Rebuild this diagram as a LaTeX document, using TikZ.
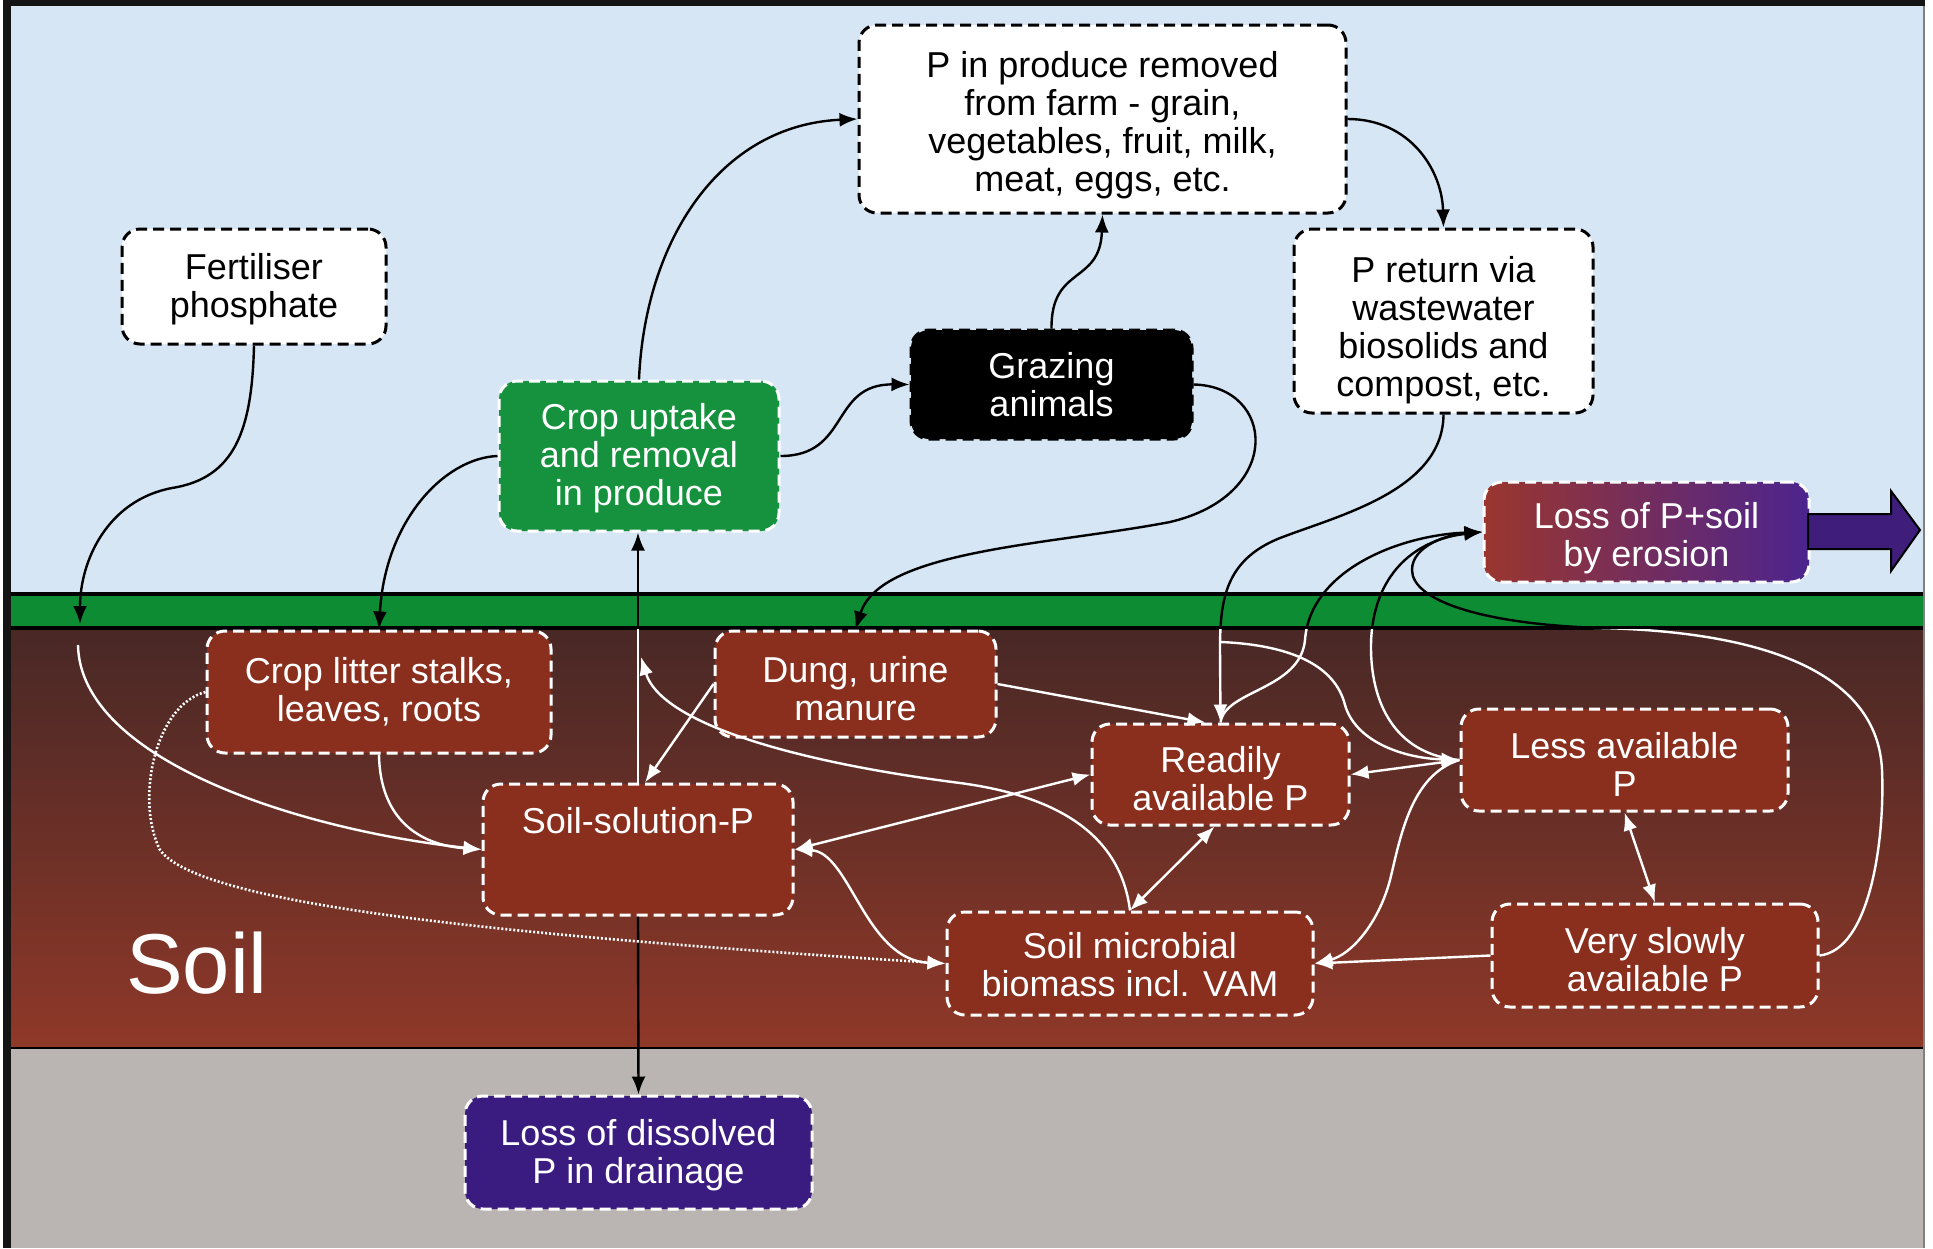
\documentclass[tikz,border=0pt]{standalone}
\usepackage{fontspec}
\setmainfont{Liberation Sans}
\usetikzlibrary{arrows.meta}
\definecolor{sky}{RGB}{214,230,244}
\definecolor{grass}{RGB}{14,140,52}
\definecolor{soiltop}{RGB}{72,40,38}
\definecolor{soilmid}{RGB}{116,47,38}
\definecolor{soilbot}{RGB}{143,56,40}
\definecolor{subsoil}{RGB}{186,181,178}
\definecolor{soilbox}{RGB}{138,46,30}
\definecolor{cropgreen}{RGB}{22,146,62}
\definecolor{lossviolet}{RGB}{58,27,128}
\definecolor{erosred}{RGB}{154,54,46}
\definecolor{erosviolet}{RGB}{76,36,142}
\definecolor{arrowviolet}{RGB}{62,30,122}
\definecolor{framecol}{RGB}{20,20,20}
\newcommand\boxfont{\fontsize{36}{38}\selectfont}
\newcommand\lift[1]{\rule{0pt}{#1pt}}
% connectors that change colour at the soil surface
\newcommand\crosspaths[1]{%
  \draw[#1,tip] (sol.north) -- (sol.north |- upt.south);
  \draw[#1,tip] (pret.south) .. controls (1443,490) and (1340,515) .. (1280,538)
     .. controls (1225,560) and (1220,600) .. (1220,650) -- (ready.north);
  \draw[#1,tip] (ready.north) .. controls (1225,690) and (1300,690) .. (1305,640)
     .. controls (1310,570) and (1400,535) .. (eros.west);
  \draw[#1,tip] (less.west) .. controls (1400,755) and (1372,710) .. (1371,650)
     .. controls (1370,580) and (1410,540) .. (eros.west);
  \draw[#1,tip] (vslow.east) .. controls (1870,950) and (1885,840) .. (1882,770)
     .. controls (1878,680) and (1780,632) .. (1600,628)
     .. controls (1480,624) and (1412,600) .. (1412,570)
     .. controls (1412,545) and (1450,534) .. (eros.west);
}
\begin{document}
\begin{tikzpicture}[x=1pt,y=-1pt,
  pbox/.style={rectangle, rounded corners=18pt, line width=3pt, dash pattern=on 11pt off 6pt,
    align=center, inner sep=0pt, font=\boxfont},
  wbox/.style={pbox, draw=black, fill=white, text=black},
  sbox/.style={pbox, draw=white, fill=soilbox, text=white},
  blk/.style={draw=black, line width=2.4pt},
  wht/.style={draw=white, line width=2.4pt},
  tip/.style={-{Latex[length=18pt,width=14pt]}},
  tips/.style={{Latex[length=18pt,width=14pt]}-{Latex[length=18pt,width=14pt]}},
  dots/.style={draw=white, line width=2.6pt, dash pattern=on 2pt off 2pt},
]
\useasboundingbox (0,0) rectangle (1933,1248);
% background layers
\fill[white] (0,0) rectangle (1933,1248);
\fill[sky] (11,6) rectangle (1923,594);
\fill[grass] (11,594) rectangle (1923,628);
\shade[top color=soiltop, middle color=soilmid, bottom color=soilbot] (11,628) rectangle (1923,1048);
\fill[subsoil] (11,1048) rectangle (1923,1248);
\draw[line width=4pt] (11,594) -- (1923,594);
\draw[line width=4pt] (11,628) -- (1923,628);
\draw[line width=2pt] (11,1048) -- (1923,1048);
\fill[framecol] (3,0) rectangle (11,1248);
\fill[framecol] (3,0) rectangle (1925,6);
\draw[gray, line width=1.5pt] (1924,6) -- (1924,1248);

% sky nodes
\node[wbox, minimum width=487pt, minimum height=188pt] (prod) at (1102.5,119)
  {\lift{38}P in produce removed\\from farm - grain,\\vegetables, fruit, milk,\\meat, eggs, etc.};
\node[wbox, minimum width=264pt, minimum height=115pt] (fert) at (254,286.5) {\lift{32}Fertiliser\\phosphate};
\node[pbox, draw=white, fill=cropgreen, text=white, minimum width=280pt, minimum height=150pt] (upt)
  at (639,456) {\lift{31}Crop uptake\\and removal\\in produce};
\node[pbox, draw=black, fill=black, text=white, minimum width=281pt, minimum height=109pt] (graze)
  at (1051.5,384.5) {Grazing\\animals};
\node[wbox, minimum width=299pt, minimum height=184pt] (pret) at (1443.5,321)
  {\lift{45}P return via\\wastewater\\biosolids and\\compost, etc.};
\node[pbox, draw=white, left color=erosred, right color=erosviolet, text=white,
  minimum width=325pt, minimum height=100pt] (eros) at (1646.5,532) {\lift{38}Loss of P+soil\\by erosion};
\draw[fill=arrowviolet, line width=2pt, line join=miter]
  (1808,514) -- (1891,514) -- (1891,491) -- (1920,530) -- (1891,571) -- (1891,549) -- (1808,549) -- cycle;

% soil nodes
\node[sbox, minimum width=344pt, minimum height=122pt] (litter) at (379,692) {Crop litter stalks,\\leaves, roots};
\node[sbox, minimum width=281pt, minimum height=106pt] (dung) at (855.5,684) {\lift{36}Dung, urine\\manure};
\node[sbox, minimum width=310pt, minimum height=131pt] (sol) at (638,849.5) {Soil-solution-P\\[20pt]\mbox{}};
\node[sbox, minimum width=257pt, minimum height=101pt] (ready) at (1220.5,774.5) {\lift{35}Readily\\available P};
\node[sbox, minimum width=327pt, minimum height=102pt] (less) at (1624.5,760) {\lift{34}Less available\\P};
\node[sbox, minimum width=366pt, minimum height=103pt] (micro) at (1130,963.5) {\lift{28}Soil microbial\\biomass incl. VAM};
\node[sbox, minimum width=326pt, minimum height=103pt] (vslow) at (1655,955.5) {\lift{35}Very slowly\\available P};
\node[pbox, draw=white, fill=lossviolet, text=white, minimum width=347pt, minimum height=113pt] (drain)
  at (638.5,1152.5) {\lift{32}Loss of dissolved\\P in drainage};
\node[text=white, font=\fontsize{85}{90}\selectfont] (soil) at (197,963) {Soil};

% free ends
\coordinate (fin) at (80,624);
\coordinate (fsoil) at (78,645);
\coordinate (pbr) at (1221,642);
\coordinate (mcu) at (641,657);

% black connectors
\draw[blk,tip] (fert.south) .. controls (252,430) and (235,478) .. (172,488)
   .. controls (108,500) and (80,560) .. (fin);
\draw[blk,tip] (upt.west) .. controls (445,458) and (385,520) .. (litter.north);
\draw[blk,tip] (upt.north) .. controls (645,240) and (720,125) .. (prod.west);
\draw[blk,tip] (upt.east) .. controls (850,456) and (830,384) .. (graze.west);
\draw[blk,tip] (graze.north) .. controls (1051,265) and (1100,285) .. (prod.south);
\draw[blk,tip] (prod.east) .. controls (1410,119) and (1442,170) .. (pret.north);
\draw[blk,tip] (graze.east) .. controls (1275,386) and (1285,495) .. (1170,522)
   .. controls (1050,545) and (880,550) .. (dung.north);
\draw[blk,tip] (sol.south) -- (drain.north);

% connectors crossing the surface: black above, white below
\begin{scope}
  \clip (0,0) rectangle (1933,629);
  \crosspaths{blk}
\end{scope}
\begin{scope}
  \clip (0,629) rectangle (1933,1248);
  \crosspaths{wht}
\end{scope}

% white soil connectors
\draw[wht,tip] (fsoil) .. controls (80,760) and (300,830) .. (sol.west);
\draw[wht,tip] (litter.south) .. controls (380,820) and (420,845) .. (sol.west);
\draw[dots,tip] (litter.west) .. controls (155,705) and (135,800) .. (160,850)
   .. controls (200,905) and (500,935) .. (micro.west);
\draw[wht,tip] (dung.west) -- ([xshift=7pt]sol.north);
\draw[wht,tip] (dung.east) -- ([xshift=-15pt]ready.north);
\draw[wht,tip] (pbr) .. controls (1290,645) and (1335,665) .. (1345,705)
   .. controls (1355,740) and (1400,758) .. (less.west);
\draw[wht,tips] (sol.east) -- (ready.west);
\draw[wht,tips] (sol.east) .. controls (850,852) and (865,960) .. (micro.west);
\draw[wht,tips] ([xshift=-6pt]ready.south) -- (micro.north);
\draw[wht,tips] (ready.east) -- (less.west);
\draw[wht,tip] (less.west) .. controls (1410,775) and (1400,840) .. (1390,880)
   .. controls (1378,925) and (1350,955) .. (micro.east);
\draw[wht,tip] (vslow.west) -- (micro.east);
\draw[wht,tips] (less.south) -- (vslow.north);
\draw[wht,tip] (micro.north) .. controls (1120,830) and (1050,795) .. (960,783)
   .. controls (780,760) and (660,720) .. (mcu);
\end{tikzpicture}
\end{document}
